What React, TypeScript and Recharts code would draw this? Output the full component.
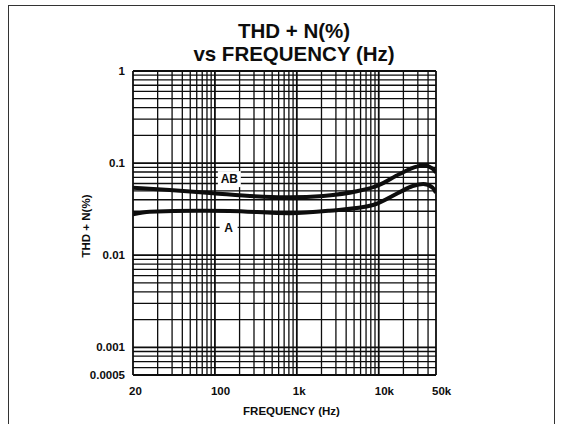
import { LineChart, Line, XAxis, YAxis, ReferenceLine, ReferenceDot } from "recharts";

// curve readings (x = Hz, y = THD+N %)
const AB_FREQ = [10, 28, 95, 390, 830, 2100, 5400, 10000, 18000, 29000, 35000, 45000, 50000];
const AB_THD = [0.054, 0.051, 0.047, 0.0432, 0.0425, 0.044, 0.0494, 0.0575, 0.0762, 0.0914, 0.0946, 0.0878, 0.0787];

const A_FREQ = [10, 16, 60, 150, 830, 2500, 8500, 17000, 26000, 35000, 45000, 50000];
const A_THD = [0.0278, 0.0297, 0.0304, 0.0302, 0.0285, 0.0304, 0.0351, 0.047, 0.0564, 0.0593, 0.0546, 0.0477];

const X_TICKS = [10, 100, 1000, 10000, 50000];
const X_TICK_LABELS = ["20", "100", "1k", "10k", "50k"];
const Y_TICKS = [0.0005, 0.001, 0.01, 0.1, 1];
const Y_TICK_LABELS = ["0.0005", "0.001", "0.01", "0.1", "1"];

// log paper
const X_GRID = [
  10, 20, 30, 40, 50, 60, 70, 80, 90,
  100, 200, 300, 400, 500, 600, 700, 800, 900,
  1000, 2000, 3000, 4000, 5000, 6000, 7000, 8000, 9000,
  10000, 20000, 30000, 40000, 50000,
];
const Y_GRID = [
  0.0005, 0.0006, 0.0007, 0.0008, 0.0009,
  0.001, 0.002, 0.003, 0.004, 0.005, 0.006, 0.007, 0.008, 0.009,
  0.01, 0.02, 0.03, 0.04, 0.05, 0.06, 0.07, 0.08, 0.09,
  0.1, 0.2, 0.3, 0.4, 0.5, 0.6, 0.7, 0.8, 0.9, 1,
];

const NOTE_TEXT = ["AB", "A"];
const NOTE_FREQ = [150, 147];
const NOTE_THD = [0.067, 0.02];

const FONT = '"Liberation Sans", Arial, Helvetica, sans-serif';
const INK = "#0d0d0d";

const abData = AB_FREQ.map((f, i) => ({ f, v: AB_THD[i] }));
const aData = A_FREQ.map((f, i) => ({ f, v: A_THD[i] }));

function XTick({ x, y, payload }: any) {
  const label = X_TICK_LABELS[X_TICKS.indexOf(payload.value)];
  return (
    <text x={x - 4} y={y} dy="0.71em" textAnchor="start" fill={INK}
      fontSize={11.5} fontWeight={700} fontFamily={FONT}>
      {label}
    </text>
  );
}

function Note({ cx, cy, text }: any) {
  const w = text.length > 1 ? 23 : 18;
  return (
    <g>
      <rect x={cx - w / 2} y={cy - 8} width={w} height={16} fill="#fff" />
      <text x={cx} y={cy} dy="0.36em" textAnchor="middle" fill={INK}
        fontSize={12} fontWeight={700} fontFamily={FONT}>
        {text}
      </text>
    </g>
  );
}

export default function App() {
  return (
    <div style={{ position: "relative", width: 561, height: 424, overflow: "hidden", background: "#fff", fontFamily: FONT }}>
      <style>{"body{margin:0;background:#fff}"}</style>
      <div style={{
        position: "absolute", left: 8, top: 5, width: 545, height: 440,
        borderTop: "1.5px solid #333", borderLeft: "1.5px solid #333", borderRight: "1.5px solid #333",
      }} />
      <div style={{
        position: "absolute", left: 144, top: 18.5, width: 300, textAlign: "center",
        fontSize: 20.5, fontWeight: 700, lineHeight: "23px", color: INK,
      }}>
        THD + N(%)<br />vs FREQUENCY (Hz)
      </div>

      <LineChart width={561} height={424} margin={{ top: 71, right: 125, left: 73, bottom: 19 }}>
        <XAxis dataKey="f" type="number" scale="log" domain={[10, 50000]} allowDataOverflow
          ticks={X_TICKS} interval={0} axisLine={false} tickLine={false} tickSize={0} tickMargin={12}
          tick={<XTick />} height={30} />
        <YAxis dataKey="v" type="number" scale="log" domain={[0.0005, 1]} allowDataOverflow
          ticks={Y_TICKS} interval={0} axisLine={false} tickLine={false} tickSize={0} tickMargin={8}
          tickFormatter={(v: number) => Y_TICK_LABELS[Y_TICKS.indexOf(v)]}
          tick={{ fill: INK, fontSize: 11.5, fontWeight: 700, fontFamily: FONT }} width={60} />

        {X_GRID.map((g) => (
          <ReferenceLine key={"x" + g} x={g} stroke={INK}
            strokeWidth={X_TICKS.includes(g) ? 1.8 : 1.3} />
        ))}
        {Y_GRID.map((g) => (
          <ReferenceLine key={"y" + g} y={g} stroke={INK}
            strokeWidth={Y_TICKS.includes(g) ? 1.8 : 1.3} />
        ))}
        {NOTE_TEXT.map((t, i) => (
          <ReferenceDot key={t} x={NOTE_FREQ[i]} y={NOTE_THD[i]} r={0}
            shape={(p: any) => <Note cx={p.cx} cy={p.cy} text={t} />} />
        ))}

        <Line data={abData} dataKey="v" type="monotone" stroke={INK} strokeWidth={4}
          dot={false} activeDot={false} isAnimationActive={false} />
        <Line data={aData} dataKey="v" type="monotone" stroke={INK} strokeWidth={4}
          dot={false} activeDot={false} isAnimationActive={false} />
      </LineChart>

      <div style={{
        position: "absolute", left: 191.5, top: 403.5, width: 200, textAlign: "center",
        fontSize: 11.5, fontWeight: 700, lineHeight: "14px", color: INK,
      }}>
        FREQUENCY (Hz)
      </div>
      <div style={{
        position: "absolute", left: 36, top: 219, width: 100, height: 14, textAlign: "center",
        fontSize: 11.5, fontWeight: 700, lineHeight: "14px", color: INK, transform: "rotate(-90deg)",
      }}>
        THD + N(%)
      </div>
    </div>
  );
}
